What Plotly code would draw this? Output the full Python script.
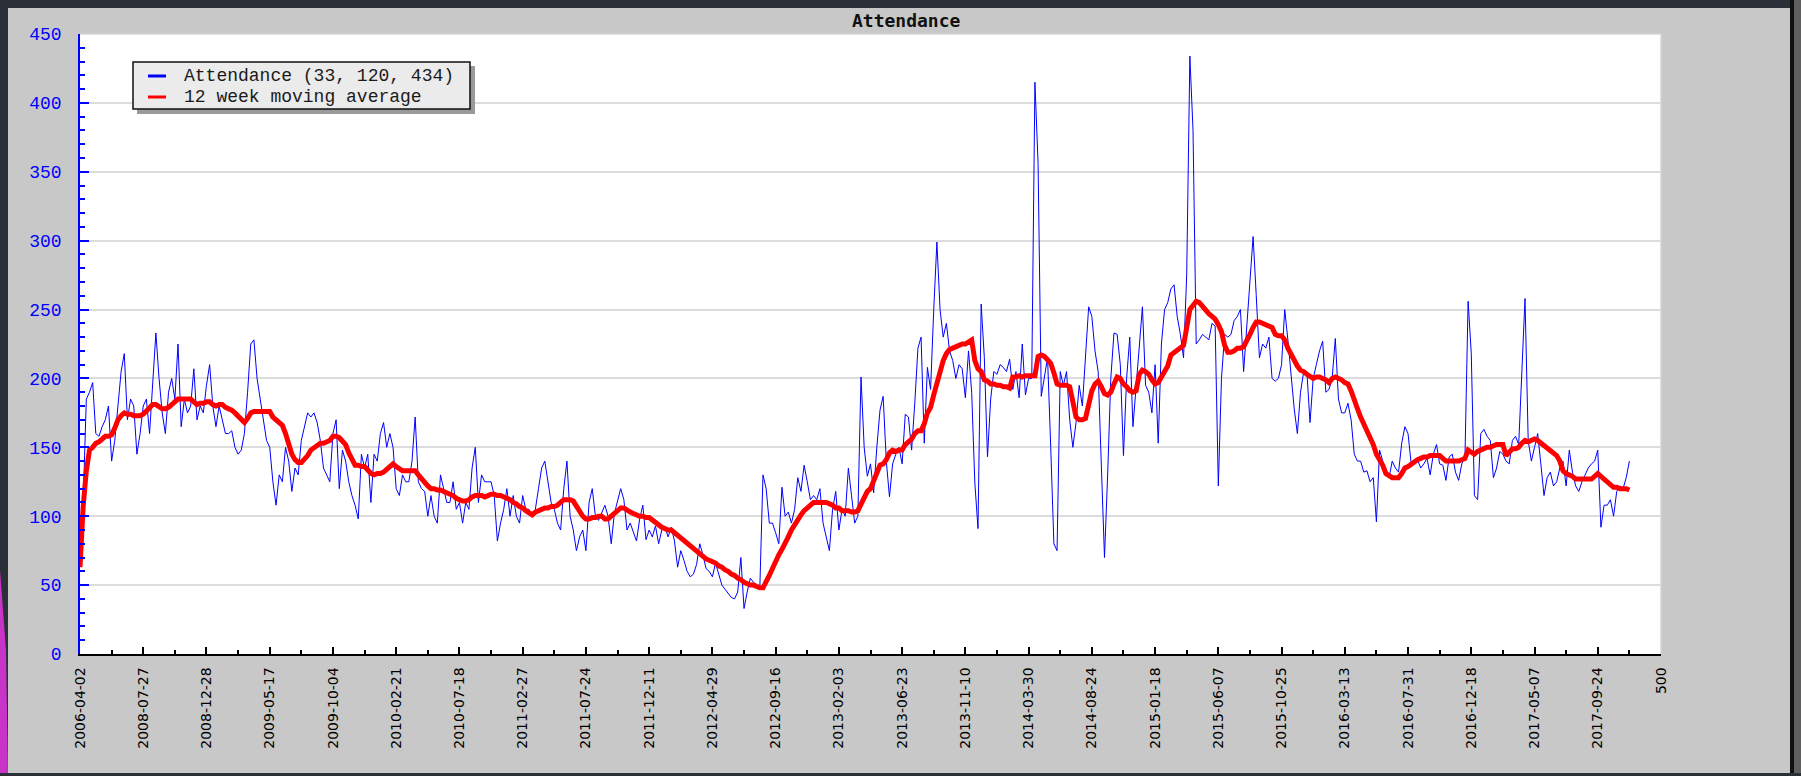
import plotly.graph_objects as go

W, H = 1801, 776
L, R, T, B = 80, 140, 34, 122

attendance = [
    65, 110, 185, 190, 197, 160, 158, 165, 170, 180,
    140, 155, 180, 205, 218, 170, 185, 180, 145, 160,
    180, 185, 160, 195, 233, 200, 175, 160, 190, 200,
    185, 225, 165, 185, 175, 180, 207, 170, 180, 175,
    195, 210, 180, 165, 180, 170, 160, 160, 162, 150,
    145, 148, 160, 190, 225, 228, 200, 185, 168, 155,
    150, 125, 108, 130, 125, 150, 140, 118, 135, 130,
    155, 165, 175, 172, 175, 168, 155, 135, 130, 125,
    160, 170, 120, 148, 140, 125, 115, 108, 98, 145,
    135, 145, 110, 145, 140, 160, 168, 150, 160, 150,
    120, 115, 130, 125, 125, 140, 172, 125, 120, 118,
    100, 115, 100, 95, 130, 120, 110, 110, 125, 105,
    110, 95, 110, 105, 135, 150, 110, 130, 125, 125,
    125, 115, 82, 95, 105, 120, 100, 115, 100, 95,
    115, 105, 105, 100, 105, 120, 135, 140, 125, 110,
    105, 95, 90, 120, 140, 100, 90, 75, 85, 90,
    75, 110, 120, 100, 97, 103, 108, 100, 80, 102,
    112, 120, 112, 90, 95, 88, 82, 98, 108, 83,
    90, 85, 93, 80, 90, 92, 85, 92, 82, 63,
    75, 68, 60, 56, 58, 65, 80, 72, 62, 60,
    56, 66, 58, 50, 47, 44, 41, 40, 45, 70,
    33, 45, 55, 52, 50, 48, 130, 120, 95, 95,
    88, 80, 121, 100, 103, 95, 105, 128, 118, 137,
    125, 112, 115, 112, 120, 95, 85, 75, 105, 118,
    90, 105, 100, 135, 115, 95, 100, 201, 150, 129,
    138, 117, 150, 177, 187, 140, 114, 138, 145, 150,
    138, 174, 172, 148, 182, 222, 230, 153, 208, 192,
    250, 299, 250, 230, 240, 220, 213, 200, 210, 207,
    186, 220, 190, 124, 91, 254, 215, 143, 185, 205,
    203, 210, 208, 205, 214, 192, 205, 186, 225, 188,
    200, 200, 415, 356, 187, 200, 215, 150, 80, 75,
    205, 195, 205, 170, 150, 168, 195, 180, 220, 252,
    245, 220, 205, 130, 70, 130, 200, 233, 232, 210,
    144, 200, 230, 165, 192, 220, 252, 195, 190, 175,
    210, 153, 225, 250, 255, 265, 268, 245, 232, 215,
    275, 434, 380, 225, 228, 232, 230, 228, 240, 238,
    122, 200, 232, 230, 232, 242, 245, 250, 205, 240,
    275, 303, 260, 215, 225, 222, 230, 200, 198, 200,
    210, 250, 228, 200, 178, 160, 190, 205, 205, 168,
    200, 210, 220, 227, 190, 192, 200, 229, 185, 175,
    175, 182, 170, 145, 140, 140, 132, 133, 125, 128,
    96, 148, 140, 130, 128, 140, 135, 132, 153, 165,
    160, 138, 140, 141, 135, 138, 142, 130, 145, 152,
    138, 137, 126, 143, 145, 132, 126, 138, 143, 256,
    218, 115, 112, 160, 163, 158, 155, 128, 135, 147,
    145, 140, 138, 155, 158, 152, 200, 258, 155, 140,
    150, 160, 138, 115, 128, 132, 122, 125, 135, 140,
    122, 148, 132, 122, 118, 125, 130, 135, 138, 140,
    148, 92, 108, 108, 112, 100, 118, 122, 120, 128,
    140,
]

moving_avg = [
    63, 107, 133, 148, 150, 153, 154, 156, 158, 158,
    159, 164, 170, 173, 175, 174, 174, 173, 173, 173,
    174, 176, 178, 181, 181, 179, 178, 178, 179, 181,
    183, 185, 185, 185, 185, 185, 183, 181, 182, 182,
    183, 183, 181, 180, 181, 181, 179, 178, 177, 175,
    173, 171, 168, 171, 175, 176, 176, 176, 176, 176,
    176, 172, 170, 168, 166, 160, 153, 145, 141, 139,
    139, 141, 144, 148, 150, 152, 153, 153, 154, 155,
    158, 158, 157, 155, 152, 146, 141, 137, 137, 136,
    136, 133, 131, 130, 131, 131, 132, 134, 136, 138,
    136, 134, 133, 133, 133, 133, 133, 130, 127, 124,
    122, 120, 120, 119, 119, 118, 117, 116, 115, 113,
    112, 111, 111, 112, 114, 115, 115, 115, 114, 115,
    116, 116, 115, 115, 114, 113, 112, 110, 109, 107,
    106, 104, 102, 101, 103, 104, 105, 106, 106, 107,
    107, 108, 110, 112, 112, 112, 111, 107, 104, 100,
    98, 98, 99, 99, 100, 100, 98, 98, 100, 102,
    104, 106, 106, 104, 103, 102, 101, 100, 100, 99,
    99, 97, 95, 93, 92, 91, 90, 90, 88, 86,
    84, 82, 80, 78, 76, 74, 73, 71, 69, 68,
    67, 66, 64, 63, 61, 60, 58, 57, 55, 54,
    52, 51, 50, 50, 49, 48, 48, 52, 57, 62,
    68, 72, 76, 80, 85, 90, 94, 98, 101, 104,
    106, 108, 110, 110, 110, 110, 110, 109, 108, 106,
    106, 104, 104, 104, 103, 103, 104, 109, 115, 118,
    120, 126, 133, 137, 138, 141, 146, 148, 147, 148,
    148, 152, 154, 156, 160, 162, 162, 167, 175, 179,
    188, 196, 206, 213, 218, 221, 222, 223, 224, 225,
    225, 227, 228, 213, 207, 205, 199, 198, 196, 196,
    195, 195, 194, 194, 193, 201, 201, 202, 201, 202,
    202, 202, 202, 216, 217, 216, 214, 211, 204, 196,
    195, 195, 195, 194, 182, 172, 170, 170, 171, 182,
    191, 196, 198, 194, 189, 188, 190, 196, 201, 200,
    196, 194, 191, 190, 191, 203, 206, 205, 203, 199,
    196, 197, 201, 205, 209, 217, 219, 220, 222, 224,
    237, 250, 253, 256, 255, 252, 250, 247, 245, 243,
    239, 234, 224, 219, 219, 220, 222, 222, 223, 227,
    232, 237, 241, 241, 240, 239, 238, 237, 232, 231,
    231, 228, 222, 217, 213, 209, 206, 205, 203, 201,
    200, 201, 201, 200, 199, 197, 200, 201, 200, 199,
    197, 196, 191, 183, 178, 172, 167, 163, 158, 152,
    145, 141, 137, 131, 129, 128, 128, 128, 131, 135,
    136, 138, 140, 141, 142, 143, 143, 144, 144, 144,
    144, 142, 140, 140, 140, 140, 140, 141, 142, 148,
    146, 145, 147, 148, 149, 150, 150, 151, 152, 152,
    152, 144, 147, 149, 149, 150, 153, 155, 154, 155,
    156, 155, 153, 151, 149, 148, 146, 144, 140, 133,
    131, 130, 129, 127, 127, 127, 127, 127, 127, 129,
    131, 129, 127, 125, 123, 121, 121, 120, 120, 120,
    119,
]

week_index = list(range(len(attendance)))

tick_positions = list(range(0, 501, 20))
tick_labels = [
    "2006-04-02", "2008-07-27", "2008-12-28", "2009-05-17", "2009-10-04",
    "2010-02-21", "2010-07-18", "2011-02-27", "2011-07-24", "2011-12-11",
    "2012-04-29", "2012-09-16", "2013-02-03", "2013-06-23", "2013-11-10",
    "2014-03-30", "2014-08-24", "2015-01-18", "2015-06-07", "2015-10-25",
    "2016-03-13", "2016-07-31", "2016-12-18", "2017-05-07", "2017-09-24",
    "500",
]
minor_positions = list(range(10, 500, 20))

series_names = ["Attendance (33, 120, 434)", "12 week moving average"]
series_colors = ["#0000ff", "#ff0000"]

PW = W - L - R
PH = H - T - B


def px(x):
    return (x - L) / PW


def py(y):
    return (H - B - y) / PH


fig = go.Figure()
fig.add_trace(go.Scatter(x=week_index, y=attendance, mode="lines",
                         line=dict(color=series_colors[0], width=1),
                         name=series_names[0], showlegend=False))
fig.add_trace(go.Scatter(x=week_index, y=moving_avg, mode="lines",
                         line=dict(color=series_colors[1], width=5),
                         name=series_names[1], showlegend=False))

shapes = []
dark = "#2b3038"
# outer dark frame
shapes.append(dict(type="rect", xref="paper", yref="paper", x0=px(0), x1=px(W), y0=py(0), y1=py(8),
                   fillcolor=dark, line=dict(width=0), layer="above"))
shapes.append(dict(type="rect", xref="paper", yref="paper", x0=px(0), x1=px(8), y0=py(0), y1=py(H),
                   fillcolor=dark, line=dict(width=0), layer="above"))
# small magenta patch of the backdrop at the lower-left edge
shapes.append(dict(type="path", xref="paper", yref="paper",
                   path="M %f,%f L %f,%f L %f,%f L %f,%f Z" % (px(0), py(570), px(6), py(650), px(8), py(H), px(0), py(H)),
                   fillcolor="#c833c8", line=dict(width=0), layer="above"))
shapes.append(dict(type="rect", xref="paper", yref="paper", x0=px(1790), x1=px(1794), y0=py(0), y1=py(H),
                   fillcolor="#111111", line=dict(width=0), layer="above"))
shapes.append(dict(type="rect", xref="paper", yref="paper", x0=px(1794), x1=px(W), y0=py(0), y1=py(H),
                   fillcolor="#5f5f5f", line=dict(width=0), layer="above"))
shapes.append(dict(type="rect", xref="paper", yref="paper", x0=px(0), x1=px(W), y0=py(773), y1=py(H),
                   fillcolor=dark, line=dict(width=0), layer="above"))
# plot area border (top / right)
shapes.append(dict(type="line", xref="paper", yref="paper", x0=0, x1=1, y0=1, y1=1,
                   line=dict(color="#d6d6d6", width=1.5), layer="above"))
shapes.append(dict(type="line", xref="paper", yref="paper", x0=1, x1=1, y0=0, y1=1,
                   line=dict(color="#d6d6d6", width=1.5), layer="above"))
# legend box with shadow
shapes.append(dict(type="rect", xref="paper", yref="paper", x0=px(137), x1=px(475), y0=py(66), y1=py(114),
                   fillcolor="#9a9a9a", line=dict(width=0), layer="above"))
shapes.append(dict(type="rect", xref="paper", yref="paper", x0=px(133), x1=px(470), y0=py(62), y1=py(109),
                   fillcolor="#ebebeb", line=dict(color="#111111", width=1.5), layer="above"))
legend_rows = [76, 97]
for name, color, yrow in zip(series_names, series_colors, legend_rows):
    shapes.append(dict(type="line", xref="paper", yref="paper", x0=px(148), x1=px(166), y0=py(yrow), y1=py(yrow),
                       line=dict(color=color, width=3), layer="above"))

annotations = []
for name, yrow in zip(series_names, legend_rows):
    annotations.append(dict(text=name, xref="paper", yref="paper", x=px(182), y=py(yrow),
                            xanchor="left", yanchor="middle", showarrow=False,
                            font=dict(family="Liberation Mono", size=18, color="#1a1a1a")))
annotations.append(dict(text="<b>Attendance</b>", xref="paper", yref="paper", x=px(906), y=py(20),
                        xanchor="center", yanchor="middle", showarrow=False,
                        font=dict(family="DejaVu Sans Mono", size=18, color="#111111")))

fig.update_layout(
    width=W, height=H,
    margin=dict(l=L, r=R, t=T, b=B, pad=0, autoexpand=False),
    paper_bgcolor="#c8c8c8",
    plot_bgcolor="#ffffff",
    showlegend=False,
    shapes=shapes,
    annotations=annotations,
    xaxis=dict(
        range=[0, 500], tickmode="array", tickvals=tick_positions, ticktext=tick_labels,
        tickangle=-90, ticks="inside", ticklen=7, tickwidth=1.5, tickcolor="#000000",
        showline=True, linecolor="#000000", linewidth=1.5, showgrid=False, zeroline=False,
        tickfont=dict(family="DejaVu Sans", size=14, color="#000000"),
        ticklabelstandoff=6, automargin=False,
        minor=dict(tickmode="array", tickvals=minor_positions, ticks="inside", ticklen=4,
                   tickwidth=1.5, tickcolor="#000000", showgrid=False),
    ),
    yaxis=dict(
        range=[0, 450], tick0=0, dtick=50, ticks="inside", ticklen=9, tickwidth=1.5,
        tickcolor="#0000ff", showline=True, linecolor="#0000ff", linewidth=1.5,
        showgrid=True, gridcolor="#dcdcdc", gridwidth=1.5, zeroline=False,
        tickfont=dict(family="Liberation Mono", size=18, color="#0000ff"),
        ticklabelstandoff=13, automargin=False,
        minor=dict(dtick=10, ticks="inside", ticklen=5, tickwidth=1.5, tickcolor="#0000ff", showgrid=False),
    ),
)

fig.write_html("out.html", config={"displayModeBar": False},
               post_script="document.body.style.margin='0';document.body.style.padding='0';")
